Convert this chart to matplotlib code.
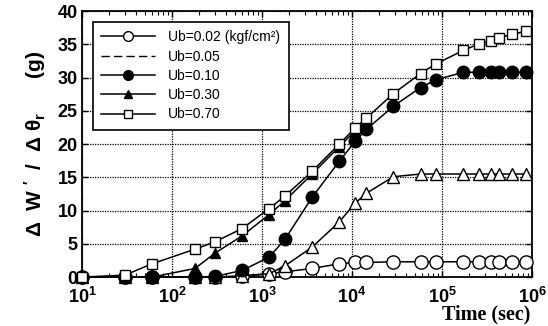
import numpy as np
import matplotlib
matplotlib.use("Agg")
import matplotlib.pyplot as plt
from matplotlib.lines import Line2D
from matplotlib.ticker import LogLocator, MultipleLocator, NullFormatter, FuncFormatter

plt.rcParams["font.family"] = ["Liberation Sans", "DejaVu Sans"]
plt.rcParams["mathtext.fontset"] = "custom"
plt.rcParams["mathtext.rm"] = "Liberation Sans"
plt.rcParams["mathtext.it"] = "Liberation Sans:italic"
plt.rcParams["mathtext.bf"] = "Liberation Sans:bold"

# tempo de ensaio (s)
t = [10, 30, 60, 180, 300, 600, 1200, 1800, 3600, 7200, 10800, 14400,
     28800, 57600, 86400, 172800, 259200, 345600, 432000, 604800, 864000]

# Delta W' / Delta theta_r (g) para cada Ub
ub002 = [0, 0, 0, 0, 0, 0.1, 0.5, 0.8, 1.3, 2.0, 2.2, 2.2,
         2.3, 2.3, 2.3, 2.3, 2.3, 2.3, 2.3, 2.3, 2.3]
ub005 = [0, 0, 0, 0, 0, 0.2, 0.5, 1.7, 4.5, 8.3, 11.1, 12.6,
         15.1, 15.5, 15.5, 15.5, 15.5, 15.5, 15.5, 15.5, 15.5]
ub010 = [0, 0, 0, 0, 0.1, 1.0, 3.0, 5.7, 12.0, 17.4, 20.4, 22.2,
         25.7, 28.5, 29.7, 30.8, 30.8, 30.8, 30.8, 30.8, 30.8]
t030 = t[:12]
ub030 = [0, 0, 0, 1.3, 3.6, 6.2, 9.4, 11.5, 15.5, 19.6, 22.0, 23.6]
ub070 = [0, 0.3, 2.0, 4.2, 5.3, 7.3, 10.3, 12.2, 15.9, 20.0, 22.4, 23.9,
         27.6, 30.6, 32.1, 34.1, 35.1, 35.5, 36.0, 36.5, 37.0]

fig = plt.figure(figsize=(5.48, 3.26), dpi=100)
ax = fig.add_axes([0.1496, 0.150, 0.8214, 0.816])

kw = dict(color="black", lw=1.1, clip_on=False, zorder=3)
ax.plot(t, ub002, marker="o", ms=9.5, mfc="white", mec="black", mew=1.0, **kw)
ax.plot(t, ub005, marker="^", ms=9, mfc="white", mec="black", mew=1.0, **kw)
ax.plot(t, ub010, marker="o", ms=9, mfc="black", mec="black", **kw)
ax.plot(t030, ub030, marker="^", ms=7.5, mfc="black", mec="black", **kw)
ax.plot(t, ub070, marker="s", ms=6.5, mfc="white", mec="black", mew=1.0, **kw)

ax.set_xscale("log")
ax.set_xlim(10, 1e6)
ax.set_ylim(0, 40)
ax.yaxis.set_major_locator(MultipleLocator(5))
ax.xaxis.set_major_locator(LogLocator(base=10, numticks=10))
ax.xaxis.set_major_formatter(FuncFormatter(lambda v, p: "$\\mathbf{10^{%d}}$" % round(np.log10(v))))
ax.xaxis.set_minor_locator(LogLocator(base=10, subs=np.arange(2, 10), numticks=10))
ax.xaxis.set_minor_formatter(NullFormatter())

ax.grid(True, which="major", color="black", linestyle=(0, (1, 1)), lw=0.9)
ax.tick_params(which="both", direction="in", top=True, right=True)
ax.tick_params(axis="x", labelsize=13, pad=7)
ax.tick_params(axis="y", labelsize=13, pad=3)
ax.tick_params(which="major", length=4, width=1)
ax.tick_params(which="minor", length=3, width=0.8)
for lab in ax.get_yticklabels():
    lab.set_fontweight("bold")
for s in ax.spines.values():
    s.set_linewidth(1.3)

ax.set_ylabel("$\\mathbf{\\Delta\\ \\ W\\ '\\ \\ /\\ \\ \\Delta\\ \\theta_r}$      (g)",
              fontsize=15, fontweight="bold", labelpad=7)
fig.text(0.968, 0.004, "Time (sec)", family="Liberation Serif", fontweight="bold",
         fontsize=14.5, ha="right", va="bottom")

handles = [
    Line2D([], [], color="black", lw=1.1, marker="o", ms=7, mfc="white", mec="black"),
    Line2D([], [], color="black", lw=1.0, linestyle=(0, (6, 3))),
    Line2D([], [], color="black", lw=1.1, marker="o", ms=7, mfc="black"),
    Line2D([], [], color="black", lw=1.1, marker="^", ms=6, mfc="black"),
    Line2D([], [], color="black", lw=1.1, marker="s", ms=6, mfc="white", mec="black"),
]
labels = ["Ub=0.02 (kgf/cm\u00b2)", "Ub=0.05", "Ub=0.10", "Ub=0.30", "Ub=0.70"]
leg = ax.legend(handles, labels, loc="upper left", bbox_to_anchor=(0.008, 0.985),
                fontsize=10, handlelength=3.9, handletextpad=0.95, labelspacing=0.38,
                borderpad=0.6, fancybox=False, framealpha=1, edgecolor="black")
leg.get_frame().set_linewidth(1.2)
leg.set_zorder(5)

fig.savefig("out.png", dpi=100)
